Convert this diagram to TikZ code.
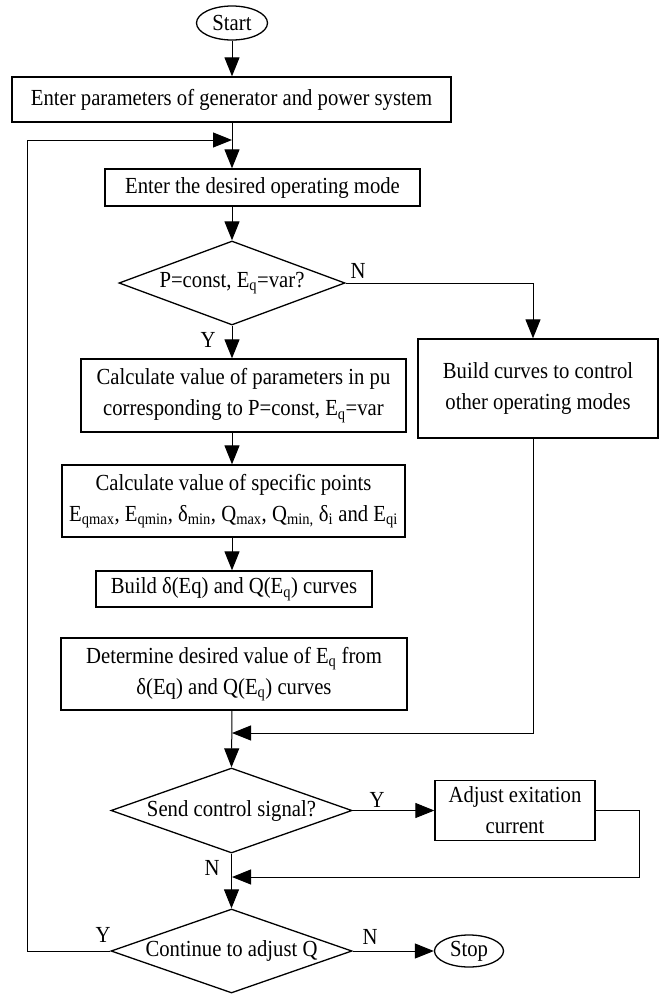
\documentclass[tikz,border=0pt]{standalone}
\usepackage{fontspec}
\setmainfont{Liberation Serif}[FakeStretch=0.9]
\usetikzlibrary{shapes.geometric,arrows.meta}
\tikzset{
  box/.style={draw, line width=1.3pt, rectangle, inner sep=0pt, align=center},
  dia/.style={draw, line width=1.3pt, diamond, inner sep=0pt},
  term/.style={draw, line width=1.3pt, ellipse, inner sep=0pt},
  arr/.style={line width=1pt, -{Triangle[length=19pt,width=15pt]}},
  lbl/.style={inner sep=0pt}
}
\newcommand{\sbs}[1]{\textsubscript{#1}}
\begin{document}
\begin{tikzpicture}[x=1pt,y=-1pt,font=\fontsize{23}{31}\selectfont]
\useasboundingbox (0,0) rectangle (665,996);
% nodes
\node[term, minimum width=71pt, minimum height=34pt] (start) at (232,23) {Start};
\node[box, minimum width=439pt, minimum height=45pt] (box1) at (231.5,99.5) {Enter parameters of generator and power system};
\node[box, minimum width=315pt, minimum height=37pt] (box2) at (262.5,187.5) {Enter the desired operating mode};
\node[dia, minimum width=226pt, minimum height=84pt] (dia1) at (232,283) {\makebox[0pt]{P=const, E\sbs{q}=var?}};
\node[box, minimum width=325pt, minimum height=73pt] (calc) at (243.5,395.5) {Calculate value of parameters in pu\\corresponding to P=const, E\sbs{q}=var};
\node[box, minimum width=343pt, minimum height=72pt] (spec) at (233.5,501) {Calculate value of specific points\\E\sbs{qmax}, E\sbs{qmin}, δ\sbs{min}, Q\sbs{max}, Q\sbs{min,} δ\sbs{i} and E\sbs{qi}};
\node[box, minimum width=276pt, minimum height=36pt] (build) at (234,589) {Build δ(Eq) and Q(E\sbs{q}) curves};
\node[box, minimum width=346pt, minimum height=72pt] (det) at (234,674) {Determine desired value of E\sbs{q} from\\δ(Eq) and Q(E\sbs{q}) curves};
\node[box, minimum width=240pt, minimum height=99pt] (right) at (538,388.5) {Build curves to control\\other operating modes};
\node[dia, minimum width=241pt, minimum height=85pt] (dia2) at (231.5,810.5) {\makebox[0pt]{Send control signal?}};
\node[box, minimum width=160pt, minimum height=60pt] (adj) at (515,810.5) {Adjust exitation\\current};
\node[dia, minimum width=241pt, minimum height=84pt] (dia3) at (231.5,951) {\makebox[0pt]{Continue to adjust Q}};
\node[term, minimum width=69pt, minimum height=32pt] (stop) at (469,951) {Stop};
% helper coordinates
\coordinate (ax) at (232,0);
\coordinate (rx) at (533,0);
\coordinate (loopL) at (27,951);
\coordinate (loopT) at (27,140);
\coordinate (loopE) at (232,140);
\coordinate (m1) at (232,733);
\coordinate (m2) at (232,877);
\coordinate (a1) at (639,810.5);
\coordinate (a2) at (639,877);
% connectors
\draw[arr] (start) -- (box1.north -| ax);
\draw[arr] (box1.south -| ax) -- (box2.north -| ax);
\draw[arr] (dia3.west) -- (loopL) -- (loopT) -- (loopE);
\draw[arr] (box2.south -| ax) -- (dia1.north);
\draw[arr] (dia1.east) -- (dia1.east -| rx) -- (right.north -| rx);
\draw[arr] (dia1.south) -- (calc.north -| ax);
\draw[arr] (calc.south -| ax) -- (spec.north -| ax);
\draw[arr] (spec.south -| ax) -- (build.north -| ax);
\draw[arr] (det.south -| ax) -- (dia2.north);
\draw[arr] (right.south -| rx) -- (m1 -| rx) -- (m1);
\draw[arr] (dia2.east) -- (adj.west);
\draw[arr] (adj.east) -- (a1) -- (a2) -- (m2);
\draw[arr] (dia2.south) -- (dia3.north);
\draw[arr] (dia3.east) -- (stop.west);
% labels
\node[lbl] (lN1) at (358,271) {N};
\node[lbl] (lY1) at (208,340) {Y};
\node[lbl] (lY2) at (377,800) {Y};
\node[lbl] (lN2) at (212,868) {N};
\node[lbl] (lY3) at (103,935) {Y};
\node[lbl] (lN3) at (370,937) {N};
\end{tikzpicture}
\end{document}
